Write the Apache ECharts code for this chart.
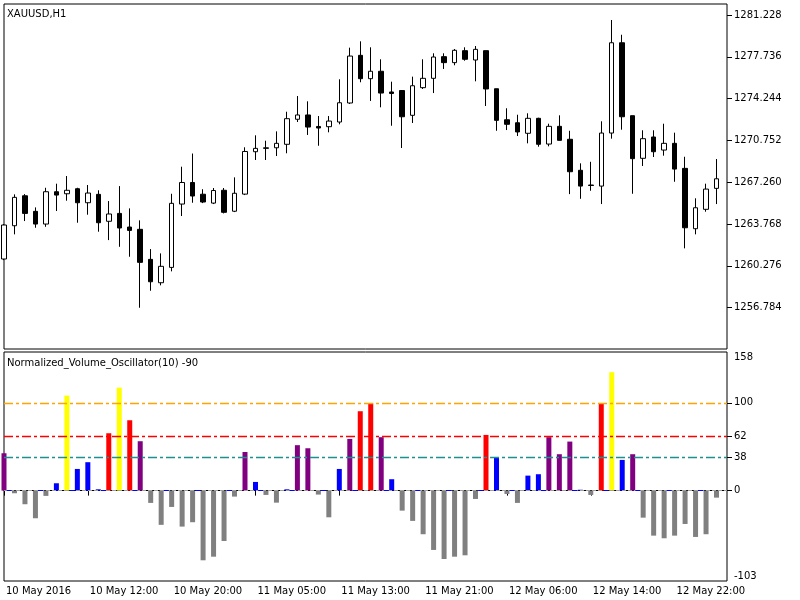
<!DOCTYPE html>
<html><head><meta charset="utf-8">
<script src="https://cdn.jsdelivr.net/npm/echarts@6/dist/echarts.min.js"></script>
<style>html,body{margin:0;padding:0;background:#fff}#c{width:800px;height:600px}</style>
</head><body><div id="c"></div><script>
const tickLabels = ['10 May 2016','10 May 12:00','10 May 20:00','11 May 05:00','11 May 13:00','11 May 21:00','12 May 06:00','12 May 14:00','12 May 22:00'];
const barsPerTick = 8;
const opens  = [1260.85,1263.63,1266.13,1264.83,1263.77,1266.47,1266.30,1266.72,1265.55,1266.25,1264.00,1264.66,1263.52,1263.33,1260.82,1258.87,1260.15,1265.44,1267.24,1266.26,1265.52,1266.59,1264.84,1266.27,1269.81,1270.09,1270.14,1270.43,1272.52,1272.88,1271.92,1271.90,1272.29,1273.88,1277.86,1275.91,1276.53,1274.80,1274.92,1272.85,1275.16,1275.94,1277.75,1277.25,1278.25,1277.47,1278.25,1275.07,1272.48,1272.23,1271.35,1272.60,1270.45,1271.93,1270.85,1268.26,1267.03,1266.94,1271.37,1278.91,1272.82,1269.26,1271.04,1269.95,1270.51,1268.42,1263.38,1265.00,1266.75];
const highs  = [1263.77,1266.25,1266.27,1265.16,1266.80,1267.14,1267.78,1266.80,1267.03,1266.59,1265.69,1266.94,1265.08,1264.08,1261.68,1261.32,1266.30,1268.56,1269.66,1266.68,1266.78,1266.78,1267.67,1270.18,1271.18,1270.73,1271.51,1273.15,1274.46,1274.02,1272.79,1272.79,1275.86,1278.50,1279.03,1278.53,1277.53,1275.66,1274.94,1276.08,1277.53,1278.03,1278.03,1278.39,1278.53,1278.64,1278.25,1275.07,1273.44,1272.90,1273.02,1272.65,1272.15,1272.85,1271.56,1268.84,1268.97,1272.35,1280.81,1279.58,1272.82,1271.60,1271.60,1272.15,1271.40,1269.39,1265.92,1267.14,1269.20];
const lows   = [1260.76,1262.91,1264.02,1263.46,1263.54,1264.86,1265.72,1263.88,1264.55,1263.13,1262.43,1261.87,1261.04,1256.78,1258.20,1258.65,1259.82,1264.44,1265.55,1265.52,1265.44,1264.66,1264.77,1266.19,1269.12,1269.12,1269.45,1269.68,1272.29,1271.21,1270.31,1271.43,1272.10,1273.80,1275.61,1274.05,1273.52,1271.98,1270.12,1272.21,1275.05,1274.71,1276.72,1277.03,1277.41,1275.69,1273.63,1271.56,1271.62,1271.12,1270.51,1270.23,1270.26,1270.75,1266.27,1265.88,1266.55,1265.44,1270.90,1271.65,1266.30,1268.62,1269.37,1269.48,1267.30,1261.74,1262.91,1264.80,1265.44];
const closes = [1263.69,1266.00,1264.66,1263.77,1266.47,1266.19,1266.59,1265.55,1266.36,1263.88,1264.61,1263.44,1263.24,1260.57,1258.95,1260.24,1265.50,1267.24,1266.11,1265.61,1266.57,1264.75,1266.34,1269.83,1270.09,1270.14,1270.51,1272.57,1272.88,1271.87,1271.79,1272.37,1273.90,1277.80,1275.91,1276.53,1274.71,1274.67,1272.73,1275.32,1275.94,1277.72,1277.25,1278.28,1277.53,1278.36,1275.05,1272.43,1272.10,1271.46,1272.60,1270.43,1271.93,1270.76,1268.14,1266.94,1266.99,1271.37,1278.91,1272.73,1269.23,1270.90,1269.81,1270.51,1268.36,1263.46,1265.13,1266.69,1267.55];
const oscValues = [42.6,-3,-15.5,-31.5,-6,8.4,108.3,24.7,32.4,1.5,65.4,117.4,80.2,56.3,-14,-39,-18.6,-41,-36,-79.4,-75.3,-57.4,-6.8,44,9.9,-4.9,-13.7,1.5,51.8,48.3,-4.5,-30.4,24.7,58.9,90.5,99.6,60.9,13,-22.8,-34.5,-49.7,-67.6,-77.9,-75.3,-73.7,-9.5,63.5,37.5,-3.8,-14,17.1,18.7,60.9,41.5,55.9,1,-4.9,99.8,135,35,41.5,-30.8,-51.3,-54.3,-51.3,-38,-52.8,-49.7,-8];
const priceTicks = [1256.784,1260.276,1263.768,1267.260,1270.752,1274.244,1277.736,1281.228];
const oscLevels = [100,62,38];
const oscAxisLabels = [-103,0,38,62,100,158];
const oscTickMarks = [0,38,62,100];

const FONT = 'Tahoma, "DejaVu Sans", sans-serif';
const slotCount = opens.length + 1;
const isTick = i => i % barsPerTick === 0 && i / barsPerTick < tickLabels.length;
const categories = [];
for (let i = 0; i < slotCount; i++) categories.push(isTick(i) ? tickLabels[i / barsPerTick] : 'bar' + i);

function oscColor(v) {
  if (v < 0) return '#808080';
  if (v < oscLevels[2]) return '#0000FF';
  if (v < oscLevels[1]) return '#800080';
  if (v < oscLevels[0]) return '#FF0000';
  return '#FFFF00';
}

const chart = echarts.init(document.getElementById('c'), null, {renderer: 'canvas'});
chart.setOption({
  animation: false,
  backgroundColor: '#fff',
  textStyle: {fontFamily: FONT},
  title: [
    {text: 'XAUUSD,H1', left: 7, top: 9, padding: 0, textStyle: {fontSize: 10, fontWeight: 'normal', color: '#000', fontFamily: FONT}},
    {text: 'Normalized_Volume_Oscillator(10) -90', left: 7, top: 358, padding: 0, textStyle: {fontSize: 10, fontWeight: 'normal', color: '#000', fontFamily: FONT}}
  ],
  grid: [
    {left: 4, top: 4, width: 723, height: 345, show: true, borderColor: '#000', borderWidth: 1, backgroundColor: 'transparent'},
    {left: 4, top: 352, width: 723, height: 229, show: true, borderColor: '#000', borderWidth: 1, backgroundColor: 'transparent'}
  ],
  xAxis: [
    {type: 'category', gridIndex: 0, data: categories, boundaryGap: false,
     axisLine: {show: false}, axisTick: {show: false}, axisLabel: {show: false}, splitLine: {show: false}},
    {type: 'category', gridIndex: 1, data: categories, boundaryGap: false,
     axisLine: {show: true, lineStyle: {color: '#000'}},
     axisTick: {show: true, interval: (i) => isTick(i), length: 5, lineStyle: {color: '#000'}},
     axisLabel: {show: true, interval: (i) => isTick(i), align: 'left', margin: 5, padding: [0, 0, 0, 2], color: '#000', fontSize: 10, fontFamily: FONT},
     splitLine: {show: false}}
  ],
  yAxis: [
    {type: 'value', gridIndex: 0, position: 'right', min: 1253.335, max: 1282.147,
     axisLine: {show: false}, splitLine: {show: false},
     axisTick: {show: true, customValues: priceTicks, length: 5, lineStyle: {color: '#000'}},
     axisLabel: {show: true, customValues: priceTicks, formatter: v => v.toFixed(3), margin: 7, color: '#000', fontSize: 10, fontFamily: FONT}},
    {type: 'value', gridIndex: 1, position: 'right', min: -103, max: 158,
     axisLine: {show: false}, splitLine: {show: false},
     axisTick: {show: true, customValues: oscTickMarks, length: 5, lineStyle: {color: '#000'}},
     axisLabel: {show: true, customValues: oscAxisLabels, formatter: v => String(v), margin: 7, color: '#000', fontSize: 10, fontFamily: FONT,
                 verticalAlignMinLabel: 'bottom', verticalAlignMaxLabel: 'top'}}
  ],
  series: [
    {type: 'candlestick', xAxisIndex: 0, yAxisIndex: 0, barWidth: 5,
     data: opens.map((o, i) => [o, closes[i], lows[i], highs[i]]),
     itemStyle: {color: '#fff', color0: '#000', borderColor: '#000', borderColor0: '#000', borderColorDoji: '#000', borderWidth: 1}},
    {type: 'line', xAxisIndex: 1, yAxisIndex: 1, data: oscValues.map(() => null), showSymbol: false, z: 1,
     markLine: {silent: true, symbol: 'none', label: {show: false},
       data: [
         {yAxis: oscLevels[0], lineStyle: {color: '#FFA500', type: [9, 3, 3, 3], width: 1.3}},
         {yAxis: oscLevels[1], lineStyle: {color: '#FF0000', type: [9, 3, 3, 3], width: 1.3}},
         {yAxis: oscLevels[2], lineStyle: {color: '#1E9090', type: [9, 3, 3, 3], width: 1.3}},
         {yAxis: 0, lineStyle: {color: '#A0A0A0', type: [4, 2], width: 1.2}},
         {yAxis: 0, lineStyle: {color: '#0000FF', type: [5, 26.43], dashOffset: -2.7, width: 1.2}}
       ]}},
    {type: 'bar', xAxisIndex: 1, yAxisIndex: 1, barWidth: 5, z: 3,
     data: oscValues.map(v => ({value: v, itemStyle: {color: oscColor(v)}}))}
  ]
});
</script></body></html>
